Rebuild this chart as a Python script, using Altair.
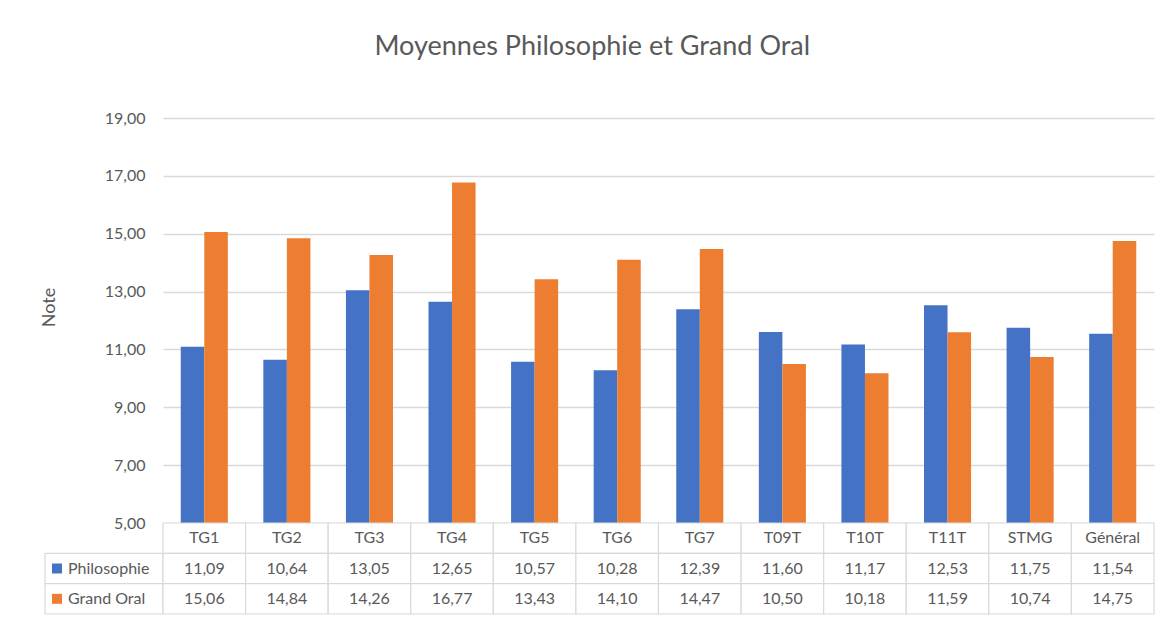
import altair as alt
import pandas as pd

# ---------------- data ----------------
categories = ["TG1", "TG2", "TG3", "TG4", "TG5", "TG6", "TG7",
              "T09T", "T10T", "T11T", "STMG", "Général"]
series = ["Philosophie", "Grand Oral"]
philosophie = [11.09, 10.64, 13.05, 12.65, 10.57, 10.28, 12.39,
               11.60, 11.17, 12.53, 11.75, 11.54]
grand_oral = [15.06, 14.84, 14.26, 16.77, 13.43, 14.10, 14.47,
              10.50, 10.18, 11.59, 10.74, 14.75]
y_ticks = [5, 7, 9, 11, 13, 15, 17, 19]
title_text = "Moyennes Philosophie et Grand Oral"
y_title = "Note"
row_header = "Classe"


def fr(v):
    return f"{v:.2f}".replace(".", ",")


records = []
for c, p, g in zip(categories, philosophie, grand_oral):
    records.append({"category": c, "series": series[0], "value": p})
    records.append({"category": c, "series": series[1], "value": g})
bars_df = pd.DataFrame(records)

table_rows = [row_header] + series
cells = []
for c, p, g in zip(categories, philosophie, grand_oral):
    cells.append({"category": c, "row": row_header, "text": c})
    cells.append({"category": c, "row": series[0], "text": fr(p)})
    cells.append({"category": c, "row": series[1], "text": fr(g)})
table_df = pd.DataFrame(cells)
legend_df = pd.DataFrame({"row": series, "series": series})

# ---------------- style ----------------
TEXT = "#595959"
GRID = "#D9D9D9"
FONT = "Lato"
color_scale = alt.Scale(domain=series, range=["#4472C4", "#ED7D31"])
row_scale = alt.Scale(domain=table_rows, paddingInner=0, paddingOuter=0)

PLOT_W, PLOT_H = 991, 405
LEG_W, TABLE_H = 118, 91

spacer = alt.Chart(pd.DataFrame({"v": [0]})).mark_point(opacity=0).properties(
    width=LEG_W, height=PLOT_H)

bars = alt.Chart(bars_df).mark_bar().encode(
    x=alt.X("category:N", sort=categories, axis=None,
            scale=alt.Scale(paddingInner=0.43, paddingOuter=0.215)),
    xOffset=alt.XOffset("series:N", sort=series),
    y=alt.Y("value:Q",
            scale=alt.Scale(domain=[5, 19], nice=False, zero=False, clamp=True),
            axis=alt.Axis(values=y_ticks,
                          labelExpr="replace(format(datum.value, '.2f'), '.', ',')",
                          ticks=False, domain=False, grid=True,
                          gridColor=GRID, gridWidth=1.3,
                          labelPadding=18, labelFontSize=16,
                          labelColor=TEXT, labelFont=FONT,
                          title=y_title, titleFontSize=18, titleColor=TEXT,
                          titleFont=FONT, titleFontWeight="normal",
                          titleX=-114, titleY=189, titleAngle=270,
                          titleBaseline="middle", titleAlign="center")),
    color=alt.Color("series:N", scale=color_scale, legend=None),
).properties(width=PLOT_W, height=PLOT_H)

legend_base = alt.Chart(legend_df).encode(
    y=alt.Y("row:N", scale=row_scale, axis=None))
legend_cells = legend_base.mark_rect(fill="white", stroke=GRID, strokeWidth=1.2)
legend_sq = legend_base.mark_square(size=100, opacity=1).encode(
    x=alt.value(12),
    color=alt.Color("series:N", scale=color_scale, legend=None))
legend_tx = legend_base.mark_text(align="left", baseline="middle", fontSize=16,
                                  font=FONT, color=TEXT).encode(
    x=alt.value(23), text="series:N")
legend_col = alt.layer(legend_cells, legend_sq, legend_tx).properties(
    width=LEG_W, height=TABLE_H)

tbase = alt.Chart(table_df).encode(
    x=alt.X("category:N", sort=categories, axis=None,
            scale=alt.Scale(paddingInner=0, paddingOuter=0)),
    y=alt.Y("row:N", scale=row_scale, axis=None))
tcells = tbase.mark_rect(fill="white", stroke=GRID, strokeWidth=1.2)
ttext = tbase.mark_text(fontSize=16, font=FONT, color=TEXT,
                        baseline="middle").encode(text="text:N")
table = alt.layer(tcells, ttext).properties(width=PLOT_W, height=TABLE_H)

chart = alt.concat(
    spacer, bars, legend_col, table,
    columns=2, spacing=0, bounds="flush",
).resolve_scale(
    x="independent", y="independent"
).properties(
    title=alt.TitleParams(title_text, fontSize=27, font=FONT, color=TEXT,
                          fontWeight="normal", anchor="middle", offset=49,
                          dx=-5),
    padding={"left": 32, "top": 25, "right": 0, "bottom": 0},
    background="white",
).configure_view(stroke=None)

chart.save("out.html", embed_options={"renderer": "svg", "actions": False})
